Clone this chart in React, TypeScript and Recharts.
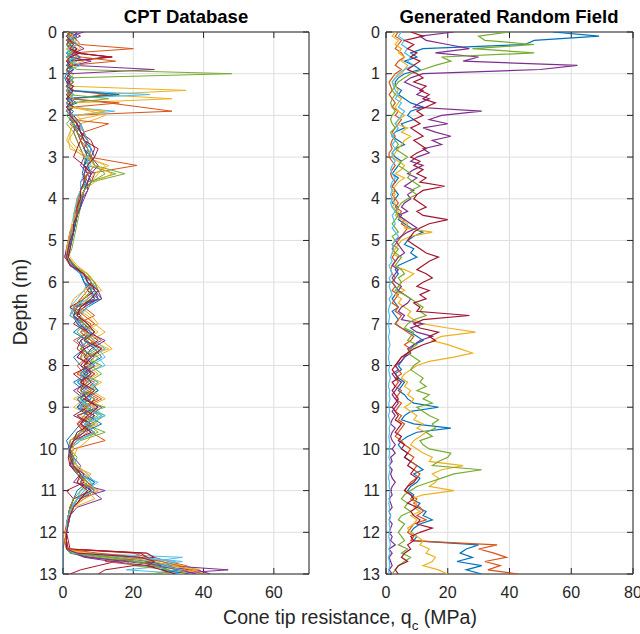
import React from 'react';
import { ScatterChart, Scatter, XAxis, YAxis, CartesianGrid } from 'recharts';

const COLORS = ['#0072BD', '#D95319', '#EDB120', '#7E2F8E', '#77AC30', '#4DBEEE', '#A2142F'];
const FONT = 'Arial, "Liberation Sans", Helvetica, sans-serif';
const INK = '#262626';

const depthTicks = [0, 1, 2, 3, 4, 5, 6, 7, 8, 9, 10, 11, 12, 13];
const cptTicks = [0, 20, 40, 60];
const rfTicks = [0, 20, 40, 60, 80];

// CPT database depths (m)
const cptDepths = [0, 0.1, 0.2, 0.3, 0.4, 0.5, 0.6, 0.7, 0.8, 0.9, 1, 1.1, 1.2, 1.3, 1.4, 1.5, 1.6, 1.7, 1.8, 1.9, 2, 2.1, 2.2,
  2.4, 2.6, 2.8, 3, 3.2, 3.4, 3.6, 3.8, 4, 4.2, 4.4, 4.6, 4.8, 5, 5.2, 5.4, 5.6, 5.8, 6, 6.2, 6.4, 6.6, 6.8,
  7, 7.2, 7.4, 7.6, 7.8, 8, 8.2, 8.4, 8.6, 8.8, 9, 9.2, 9.4, 9.6, 9.8, 10, 10.2, 10.4, 10.6, 10.8,
  11, 11.2, 11.4, 11.6, 11.8, 12, 12.2, 12.4, 12.5, 12.6, 12.7, 12.8, 12.9, 13];

// CPT profiles, qc (MPa)
const cpt1 = [1, 2, 1.5, 3, 2, 1, 2, 3, 1.5, 2, 1, 0.5, 1, 1.5, 2, 15, 2, 1, 1.5, 1, 2, 3, 2.5, 4, 6, 7, 6.5, 6, 5.5, 6.5, 5, 5, 4.5, 4, 3.5, 3, 2, 1.5, 1, 3, 6, 7, 8, 6, 4, 3, 5, 7, 4, 6, 3, 5, 7, 3, 6, 8, 4, 9, 5, 3, 1, 2, 3, 2, 5, 7, 4, 3, 2, 1.5, 1, 1, 0.5, 0, 0, 0, 0, 0, 0, 0];
const cpt2 = [2, 3, 4, 5, 20, 3, 14, 2, 3, 1, 2, 1, 1.5, 2, 1, 3, 2, 13, 22, 31, 2, 3, 4, 6, 7, 8, 7.5, 21, 7, 6, 5, 5, 4.5, 4, 3.5, 3, 2.5, 2, 1, 3, 7, 9, 10, 7, 5, 4, 8, 6, 9, 5, 7, 4, 6, 8, 5, 7, 9, 6, 4, 8, 12, 3, 2, 4, 6, 9, 7, 4, 3, 2, 1.5, 1, 1, 1.5, 24, 26, 30, 35, 38, 33];
const cpt3 = [3, 1, 2, 4, 5, 2, 3, 6, 2, 1, 3, 2, 1, 1.5, 35, 10, 31, 3, 2, 8, 12, 9, 5, 3, 1.5, 2, 7, 12, 10, 8, 6, 5, 4, 3.5, 3, 2.5, 2, 1.5, 2, 4, 7, 8, 6, 3, 2, 5, 7, 10, 6, 12, 8, 10, 4, 7, 10, 6, 3, 8, 5, 9, 7, 4, 3, 3, 8, 5, 9, 3, 2.5, 2, 1, 1, 0.5, 1, 8, 20, 28, 34, 39, 40];
const cpt4 = [6, 2, 3, 1, 4, 2, 3, 2, 3, 26, 2, 1, 3, 2, 1, 1.5, 2, 1, 3, 2, 2, 3, 5, 4, 6, 8, 7, 6, 9, 8, 7, 6, 5, 4, 3.5, 3, 2.5, 2, 1.5, 3, 5, 6, 7, 9, 3, 2, 5, 8, 11, 6, 4, 9, 5, 7, 3, 6, 11, 8, 4, 6, 3, 2, 3, 5, 4, 7, 9, 5, 3, 2, 1.5, 1, 1, 1.5, 2, 8, 20, 30, 47, 30];
const cpt5 = [2, 1, 3, 2, 1.5, 3, 2, 1, 2, 4, 48, 2, 1, 3, 2, 1.5, 1, 2, 3, 2, 1, 2, 3, 4, 5, 6, 7, 9, 17.6, 8, 6, 5.5, 5, 4.5, 4, 3.5, 3, 2.5, 1.5, 3.5, 6, 8, 9, 10, 6, 4, 7, 5, 8, 10, 6, 11, 7, 5, 9, 4, 7, 10, 6, 12, 5, 2, 4, 3, 5, 8, 6, 4, 3, 2, 1, 1, 1, 1, 3, 12, 22, 28, 32, 25];
const cpt6 = [1, 3, 2, 1, 3, 2, 4, 1, 2, 1, 2, 1, 3, 1.5, 2, 24.7, 1, 3, 2, 14.7, 3, 2, 4, 5, 6, 7, 8, 6, 7, 6, 5, 4, 4, 3.5, 3, 2, 2.5, 2, 1, 2.5, 5, 7, 6, 4, 2, 3, 6, 9, 5, 7, 10, 12, 6, 4, 8, 5, 7, 11, 9, 4, 3, 2, 3, 4, 7, 9, 5, 4, 2, 1.5, 1, 1, 1, 1, 5, 34, 25, 30, 18, 36];
const cpt7 = [2, 1, 3, 2, 4, 3, 14, 2, 1, 2, 1, 3, 2, 1, 2, 1.5, 3, 2, 1, 2, 2, 3, 4, 5, 8, 9, 8, 6, 7, 5, 5, 4.5, 4, 3.5, 3, 2.5, 2, 1.5, 1, 2.5, 5.5, 8, 7, 10, 4, 3, 6, 8, 5, 4, 7, 5, 9, 6, 4, 7, 5, 9, 7, 5, 3, 2, 3, 2.5, 6, 4, 8, 3, 2, 1.5, 1, 1, 1.5, 2, 23.7, 26, 15, 10, 5, 2];
const cpt8 = [3, 1.5, 2, 1, 2, 4, 1, 2, 3, 1, 2, 1, 1.5, 2, 3, 1, 2, 4, 1, 2, 2, 3, 3, 4, 5, 6, 7, 6, 8, 7, 6, 5.5, 5, 4, 3, 2.5, 2, 1.5, 1, 2, 5, 6, 9, 11, 7, 4, 6, 3, 7, 5, 9, 6, 8, 4, 7, 5, 8, 6, 9, 5, 2, 1.5, 2, 3, 4, 6, 8, 5, 3, 2, 1.5, 1, 1, 1, 3, 15, 25, 30, 33, 28];
const cpt9 = [1, 2, 1, 3, 2, 4, 2, 1.5, 3, 2, 1, 2, 1, 3, 1.5, 12.7, 2, 16, 3, 1, 2, 3, 2, 4, 5, 6, 8, 7, 6, 7, 5, 4, 4, 3, 3, 2.5, 1.5, 1, 0.5, 2, 6, 7, 10, 8, 6, 9, 4, 7, 3, 6, 5, 7, 4, 9, 6, 10, 5, 7, 4, 6, 2, 3, 2, 3, 4, 7, 10, 6, 2, 1.5, 1, 0.5, 1, 1, 20, 24, 12, 22, 36, 30];
const cpt10 = [2, 1, 3, 1, 2, 3, 1.5, 2, 4, 2, 1, 2, 1, 2, 3, 2, 1.5, 1, 2, 11, 10, 4, 3, 2, 1, 3, 6, 13, 9, 7, 5, 4, 3.5, 3, 2.5, 2, 1.5, 1.5, 1, 3, 7, 9, 11, 5, 3, 7, 9, 12, 8, 13, 6, 8, 5, 11, 7, 3, 9, 6, 10, 5, 2, 2, 1.5, 3, 6, 4, 7, 9, 3, 2, 1, 1, 0.5, 1, 6, 18, 25, 32, 35, 28];
const cpt11 = [4, 3, 2, 1, 2, 3, 1, 2, 1.5, 3, 2, 1, 2, 1, 1.5, 2, 1, 2, 1.5, 1, 2, 3, 4, 3, 4, 5, 6, 5, 7, 8, 6, 5, 4.5, 4, 3, 2, 1.5, 1, 0.5, 2.5, 6, 8, 10, 11, 3, 4, 7, 9, 5, 6, 8, 6, 7, 5, 8, 4, 6, 7, 5, 9, 4, 2, 2.5, 2, 5, 3, 12, 4, 3, 2, 1.5, 1, 1, 1, 3, 6, 14, 24, 38, 42];
const cpt12 = [1, 2, 1, 2, 3, 1, 2, 4, 1, 2, 1, 3, 2, 1, 2, 3, 1, 2, 1, 2, 3, 2, 1, 3, 4, 5, 6, 7, 15, 7, 5, 5, 4, 4, 3, 3, 2, 1.5, 1, 3, 7, 9, 10, 8, 4, 2, 6, 4, 7, 9, 5, 7, 6, 10, 8, 5, 12, 4, 7, 10, 4, 1.5, 2, 3, 6, 5, 9, 4, 2.5, 2, 1, 1, 1, 1, 2, 10, 18, 20, 30, 35];
const cpt13 = [2, 1, 2, 3, 1, 2, 1, 3, 2, 1, 1, 2, 1, 2, 1, 2, 3, 1, 2, 1, 2, 4, 5, 5, 6, 8, 7, 8, 6, 5, 5, 4.5, 4, 3.5, 3, 3, 2, 1.5, 1, 2, 5, 6, 8, 10, 7, 5, 4, 6, 9, 12, 7, 9, 6, 4, 10, 7, 5, 11, 6, 8, 5, 2, 3, 2, 4, 10, 6, 4, 3, 2, 1.5, 1, 1, 1, 4, 22, 34, 26, 30, 34];
const cpt14 = [1, 3, 2, 1, 2, 4, 13, 1, 2, 3, 1, 2, 1, 3, 2, 1, 2, 1, 3, 1, 3, 4, 5, 6, 5, 4, 3, 6, 8, 7, 6, 5, 4.5, 4, 3.5, 3, 2.5, 2, 1.5, 3, 6, 8, 9, 6, 2, 5, 3, 7, 10, 6, 4, 8, 3, 6, 5, 9, 7, 3, 8, 4, 3, 2, 1.5, 2, 4, 6, 1, 3, 2, 1.5, 1, 1, 1, 1, 22, 24, 26, 20, 12, 10];
const cpt15 = [2, 4, 1, 2, 3, 1, 5, 2, 1, 3, 1, 2, 1.5, 1, 2, 16, 1, 2, 1, 3, 2, 2, 3, 5, 6, 8, 9, 7, 8, 7, 6, 5, 5, 4, 3.5, 3, 2.5, 1.5, 1, 2.5, 5, 6, 8, 9, 5, 3, 4, 8, 6, 9, 11, 7, 5, 8, 10, 6, 4, 7, 11, 6, 3, 2, 2.5, 3, 5, 9, 7, 5, 3, 2, 1.5, 1, 1, 1, 2, 18, 24, 31, 28, 36];
const cpt16 = [3, 2, 1, 4, 2, 3, 5, 15, 2, 1, 2, 1, 3, 1, 2, 1.5, 2, 1, 2, 1, 3, 2, 13, 6, 5, 7, 8, 9, 7, 6, 5, 4.5, 4, 3.5, 3, 2.5, 2, 1.5, 1, 2, 6, 8, 7, 5, 3, 6, 9, 5, 8, 11, 7, 6, 9, 5, 7, 11, 6, 8, 5, 7, 4, 2, 3, 2, 5, 6, 9, 5, 3, 2, 1, 1, 0.5, 1, 10, 22, 28, 33, 36, 40];
const cpt17 = [1, 3, 2, 5, 1, 2, 4, 3, 2, 1, 2, 1, 2, 1, 2, 1, 3, 2, 1, 12, 4, 5, 3, 2, 2, 4, 7, 9, 14, 9, 6, 5, 4.5, 3.5, 3, 2, 1.5, 1, 1, 3, 7, 9, 6, 7, 5, 8, 10, 6, 11, 14, 9, 7, 10, 6, 8, 12, 7, 5, 9, 6, 3, 3, 2, 4, 7, 6, 10, 6, 3, 2, 1.5, 1, 1, 1, 5, 16, 26, 30, 38, 33];
const cpt18 = [3, 5, 2, 4, 6, 3, 2, 8, 3, 2, 1, 2, 1, 3, 2, 1, 2, 3, 1, 2, 2, 3, 4, 5, 7, 6, 8, 10, 8, 7, 7, 5.5, 5, 4, 3, 3, 2, 1.5, 1, 3, 6, 7, 9, 10, 6, 3, 5, 7, 12, 8, 6, 9, 6, 8, 5, 7, 10, 4, 8, 6, 3, 1.5, 3, 2, 6, 5, 8, 11, 4, 2, 1, 1, 1, 1, 3, 7, 18, 28, 33, 38];
const cpt19 = [1, 2, 4, 1, 3, 2, 1, 2, 3, 2, 1, 2, 3, 2, 1, 1.5, 13, 2, 1, 2, 2, 3, 3, 4, 6, 7, 8, 9, 12, 8, 6, 5, 4.5, 4, 3, 3, 2, 1.5, 1, 3.5, 6, 9, 8, 6, 3, 4, 6, 9, 7, 5, 10, 8, 11, 7, 5, 9, 6, 12, 8, 5, 3, 2, 3, 3, 4, 7, 5, 3, 2, 1.5, 1, 1, 1, 1, 2, 14, 20, 26, 30, 28];
const cpt20 = [2, 1, 3, 4, 2, 1, 3, 2, 5, 2, 1, 3, 2, 1, 2, 3, 2, 1, 2, 1, 3, 3, 5, 6, 7, 8, 7, 7, 6, 6, 5, 4, 3.5, 3, 3, 2.5, 2, 1.5, 1, 2.5, 5, 8, 10, 7, 3, 2, 5, 8, 6, 10, 12, 8, 5, 10, 6, 4, 8, 12, 6, 9, 4, 1.5, 2, 3, 5, 8, 9, 4, 2.5, 1.5, 1, 1, 1, 1, 3, 20, 32, 28, 34, 30];
const cpt21 = [2, 1, 2, 3, 2, 5, 2, 1, 2, 1, 2, 1, 2, 1, 3, 2, 1, 2, 1, 2, 2, 3, 4, 5, 6, 10, 9, 7, 6, 6, 5, 5, 4, 4, 3, 3, 2, 1.5, 1, 2, 6, 7, 10, 8, 5, 4, 7, 9, 6, 11, 8, 6, 8, 5, 9, 6, 10, 7, 5, 8, 3, 2, 2, 3, 5, 4, 7, 5, 3, 2, 1.5, 1, 1, 1, 4, 22, 26, 24, 28, 32];

// Generated random field depths (m)
const rfDepths = [0, 0.1, 0.2, 0.3, 0.4, 0.5, 0.6, 0.7, 0.8, 0.9, 1, 1.1, 1.2, 1.3, 1.4, 1.5, 1.6, 1.7, 1.8, 1.9,
  2, 2.1, 2.2, 2.3, 2.4, 2.5, 2.6, 2.7, 2.8, 2.9, 3, 3.1, 3.2, 3.3, 3.4, 3.5, 3.6, 3.7, 3.8, 3.9,
  4, 4.1, 4.2, 4.3, 4.4, 4.5, 4.6, 4.7, 4.8, 4.9, 5, 5.1, 5.2, 5.3, 5.4, 5.5, 5.6, 5.7, 5.8, 5.9,
  6, 6.1, 6.2, 6.3, 6.4, 6.5, 6.6, 6.7, 6.8, 6.9, 7, 7.1, 7.2, 7.3, 7.4, 7.5, 7.6, 7.7, 7.8, 7.9,
  8, 8.1, 8.2, 8.3, 8.4, 8.5, 8.6, 8.7, 8.8, 8.9, 9, 9.1, 9.2, 9.3, 9.4, 9.5, 9.6, 9.7, 9.8, 9.9,
  10, 10.1, 10.2, 10.3, 10.4, 10.5, 10.6, 10.7, 10.8, 10.9, 11, 11.1, 11.2, 11.3, 11.4, 11.5, 11.6, 11.7, 11.8, 11.9,
  12, 12.1, 12.2, 12.3, 12.4, 12.5, 12.6, 12.7, 12.8, 12.9, 13];

const rfBlue = [54, 69, 48, 45, 12, 8, 10, 6, 9, 11, 6, 4, 3, 3, 5, 4, 6, 8, 12, 8, 7, 9, 5, 6, 3, 2, 4, 6, 3, 2, 3, 5, 4, 3, 2, 4, 3, 2, 3, 4, 3, 2, 4, 3, 5, 4, 6, 8, 12, 9, 7, 6, 9, 8, 10, 7, 4, 3, 4, 3, 2, 3, 4, 3, 2, 3, 4, 2, 3, 4, 3, 5, 8, 10, 12, 9, 8, 7, 6, 5, 4, 5, 3, 4, 6, 5, 4, 6, 7, 9, 17, 8, 6, 5, 9, 21, 10, 7, 5, 4, 5, 7, 6, 8, 10, 12, 9, 11, 10, 8, 7, 9, 8, 11, 10, 13, 12, 15, 11, 9, 8, 10, 9, 30, 26, 24, 28, 23, 31, 26, 31];
const rfOrange = [4, 3, 5, 4, 3, 5, 6, 4, 3, 5, 3, 2, 1, 1.5, 2, 1, 2, 3, 2, 4, 3, 5, 4, 3, 2, 3, 2, 1.5, 2, 1, 1, 2, 3, 2, 1.5, 2, 3, 2, 3, 2, 3, 4, 3, 5, 4, 6, 5, 7, 6, 5, 4, 3, 2, 3, 2, 3, 2, 1.5, 2, 3, 2, 3, 2, 4, 3, 2, 4, 3, 5, 4, 3, 5, 7, 9, 8, 6, 8, 7, 5, 4, 3, 4, 5, 3, 4, 3, 5, 4, 3, 5, 4, 3, 5, 4, 6, 5, 4, 3, 5, 6, 8, 7, 9, 8, 10, 9, 11, 10, 8, 7, 6, 8, 10, 9, 11, 12, 10, 13, 9, 8, 7, 9, 8, 36, 30, 35, 39, 32, 37, 33, 43];
const rfYellow = [3, 2, 4, 3, 5, 4, 6, 5, 7, 6, 5, 3, 2, 3, 4, 3, 5, 4, 3, 4, 6, 4, 3, 7, 5, 8, 6, 5, 4, 3, 2, 4, 6, 5, 3, 6, 4, 3, 2, 3, 2, 3, 2, 4, 3, 5, 7, 6, 15, 8, 5, 4, 3, 2, 4, 3, 2, 6, 9, 7, 5, 4, 6, 3, 5, 4, 6, 8, 7, 9, 12, 20, 29, 18, 15, 20, 24, 28, 22, 14, 10, 8, 6, 5, 7, 6, 8, 7, 9, 8, 6, 8, 10, 9, 12, 10, 13, 11, 9, 8, 10, 12, 15, 14, 25, 18, 15, 17, 16, 14, 22, 12, 8, 10, 9, 11, 8, 10, 9, 7, 8, 10, 12, 11, 14, 13, 16, 15, 12, 17, 20];
const rfPurple = [22, 11, 13, 20, 27, 16, 30, 25, 62, 50, 12, 8, 6, 9, 12, 10, 14, 11, 9, 31, 18, 14, 20, 12, 16, 21, 15, 18, 12, 14, 10, 8, 12, 9, 7, 10, 8, 6, 9, 7, 8, 6, 5, 7, 4, 6, 8, 10, 7, 5, 3, 4, 5, 6, 4, 3, 2, 4, 3, 2, 3, 5, 4, 6, 8, 7, 5, 4, 6, 5, 12, 8, 10, 15, 11, 9, 7, 8, 6, 5, 3, 4, 2, 3, 5, 4, 3, 2, 3, 4, 3, 2, 3, 2, 1.5, 3, 2, 1.5, 2, 3, 2, 3, 1.5, 2, 1, 2, 1.5, 2, 3, 2, 1.5, 2, 1, 1.5, 2, 1, 1.5, 1, 2, 1.5, 1, 2, 1.5, 3, 1, 2, 1, 1.5, 2, 1, 2];
const rfGreen = [40, 30, 32, 48, 28, 48, 18, 21, 16, 12, 8, 6, 4, 3, 2, 3, 2, 1.5, 2, 3, 2, 1.5, 2, 3, 1.5, 2, 3, 4, 3, 5, 7, 5, 4, 6, 8, 7, 9, 11, 8, 10, 7, 5, 4, 3, 4, 3, 2, 3, 4, 2, 3, 2, 4, 3, 5, 4, 3, 5, 6, 4, 5, 4, 3, 6, 8, 10, 12, 11, 13, 9, 7, 6, 9, 8, 7, 10, 8, 7, 9, 11, 9, 8, 10, 12, 11, 13, 10, 14, 12, 15, 10, 12, 14, 17, 15, 16, 13, 15, 11, 12, 14, 21, 20, 17, 15, 31, 22, 18, 14, 10, 8, 6, 5, 7, 6, 8, 5, 4, 6, 5, 4, 5, 6, 4, 7, 5, 8, 6, 4, 3, 2];
const rfLightBlue = [5, 4, 6, 5, 7, 6, 8, 7, 9, 6, 4, 3, 2, 2.5, 3, 4, 3, 5, 4, 6, 5, 4, 3, 4, 3, 2, 3, 2, 3, 2, 2, 3, 2, 1.5, 2, 3, 2, 1.5, 2, 1.5, 2, 1.5, 2, 3, 2, 2.5, 3, 2, 3, 4, 3, 2, 2.5, 2, 1.5, 2, 1, 1.5, 2, 1, 1.5, 1, 1.5, 2, 1, 1.5, 1, 0.8, 1.2, 1, 0.8, 1, 1.2, 0.8, 1, 1.3, 0.9, 1.1, 0.8, 1, 1.2, 0.9, 1.1, 1.4, 1, 0.8, 1.2, 1, 1.3, 0.9, 1, 1.2, 0.8, 1.1, 1.4, 1, 1.2, 0.9, 1.1, 1.3, 1, 1.2, 0.9, 1.4, 1.1, 1.3, 1, 0.8, 1.2, 1, 1.4, 1.1, 1.3, 0.9, 1.2, 1, 1.5, 1.2, 1, 1.3, 1.1, 0.9, 1.2, 1.4, 1, 1.3, 0.8, 1.1, 1.2, 0.9, 1];
const rfDarkRed = [8, 12, 6, 9, 7, 10, 8, 11, 9, 7, 10, 12, 9, 13, 11, 14, 12, 16, 13, 10, 12, 9, 11, 8, 10, 12, 9, 11, 13, 10, 8, 11, 9, 12, 10, 13, 11, 19, 12, 10, 9, 11, 13, 10, 12, 20, 14, 11, 9, 8, 7, 9, 11, 13, 17, 14, 12, 10, 13, 15, 12, 10, 14, 11, 13, 9, 11, 10, 27, 12, 9, 11, 17, 14, 16, 12, 9, 7, 5, 4, 3, 2, 3, 4, 2, 3, 2, 3, 4, 3, 2, 3, 4, 3, 5, 4, 3, 5, 4, 6, 5, 7, 6, 8, 7, 9, 8, 10, 9, 7, 6, 8, 9, 7, 10, 8, 9, 11, 10, 15, 11, 8, 9, 7, 8, 6, 5, 7, 4, 3, 4];

const cptSeries = [cpt1, cpt2, cpt3, cpt4, cpt5, cpt6, cpt7, cpt8, cpt9, cpt10, cpt11, cpt12, cpt13, cpt14,
  cpt15, cpt16, cpt17, cpt18, cpt19, cpt20, cpt21];
const rfSeries = [rfBlue, rfOrange, rfYellow, rfPurple, rfGreen, rfLightBlue, rfDarkRed];

const tickStyle = { fill: INK, fontSize: 16, fontFamily: FONT };
const blank = () => '';
const NoDot = () => <g />;

type PanelProps = {
  depths: number[];
  series: number[][];
  xMax: number;
  xTicks: number[];
  mLeft: number;
  mRight: number;
  lineWidth: number;
};

function Panel({ depths, series, xMax, xTicks, mLeft, mRight, lineWidth }: PanelProps) {
  return (
    <ScatterChart width={320} height={634} margin={{ top: 31, right: mRight, bottom: 30, left: mLeft }}>
      <CartesianGrid xAxisId="b" yAxisId="l" stroke="#dedede" strokeWidth={1} />
      <XAxis xAxisId="b" type="number" dataKey="x" domain={[0, xMax]} ticks={xTicks} allowDataOverflow interval={0}
        height={30} tickSize={-6} tickMargin={19} axisLine={{ stroke: INK }} tickLine={{ stroke: INK }} tick={tickStyle} />
      <XAxis xAxisId="t" orientation="top" type="number" dataKey="x" domain={[0, xMax]} ticks={xTicks} allowDataOverflow interval={0}
        height={1} tickSize={-6} tickFormatter={blank} axisLine={{ stroke: INK }} tickLine={{ stroke: INK }} tick={tickStyle} />
      <YAxis yAxisId="l" type="number" dataKey="y" domain={[0, 13]} reversed ticks={depthTicks} allowDataOverflow interval={0}
        width={40} tickSize={-6} tickMargin={12} axisLine={{ stroke: INK }} tickLine={{ stroke: INK }} tick={tickStyle} />
      <YAxis yAxisId="r" orientation="right" type="number" dataKey="y" domain={[0, 13]} reversed ticks={depthTicks} allowDataOverflow interval={0}
        width={1} tickSize={-6} tickFormatter={blank} axisLine={{ stroke: INK }} tickLine={{ stroke: INK }} tick={tickStyle} />
      {series.map((vals, i) => (
        <Scatter
          key={i}
          xAxisId="b"
          yAxisId="l"
          data={depths.map((d, j) => ({ x: vals[j], y: d }))}
          fill={COLORS[i % COLORS.length]}
          line={{ stroke: COLORS[i % COLORS.length], strokeWidth: lineWidth }}
          lineType="joint"
          shape={NoDot}
          isAnimationActive={false}
        />
      ))}
    </ScatterChart>
  );
}

export default function App() {
  return (
    <div style={{ position: 'absolute', left: 0, top: 0, width: 640, height: 634, background: '#fff', overflow: 'hidden' }}>
      <div style={{ position: 'absolute', left: 0, top: 0 }}>
        <Panel depths={cptDepths} series={cptSeries} xMax={70} xTicks={cptTicks} mLeft={23} mRight={10} lineWidth={1} />
      </div>
      <div style={{ position: 'absolute', left: 320, top: 0 }}>
        <Panel depths={rfDepths} series={rfSeries} xMax={80} xTicks={rfTicks} mLeft={26} mRight={6} lineWidth={1.2} />
      </div>
      <svg width={640} height={634} style={{ position: 'absolute', left: 0, top: 0, pointerEvents: 'none' }}>
        <text x={186} y={23} textAnchor="middle" fontFamily={FONT} fontWeight="bold" fontSize={18.5} fill="#000">CPT Database</text>
        <text x={509} y={23} textAnchor="middle" fontFamily={FONT} fontWeight="bold" fontSize={18.5} fill="#000">Generated Random Field</text>
        <text transform="translate(27,302) rotate(-90)" textAnchor="middle" fontFamily={FONT} fontSize={19.5} fill={INK}>Depth (m)</text>
        <text x={350} y={624} textAnchor="middle" fontFamily={FONT} fontSize={19.5} fill={INK}>
          Cone tip resistance, q<tspan fontSize={13.5} dy={6}>c</tspan><tspan dy={-6}> (MPa)</tspan>
        </text>
      </svg>
    </div>
  );
}
